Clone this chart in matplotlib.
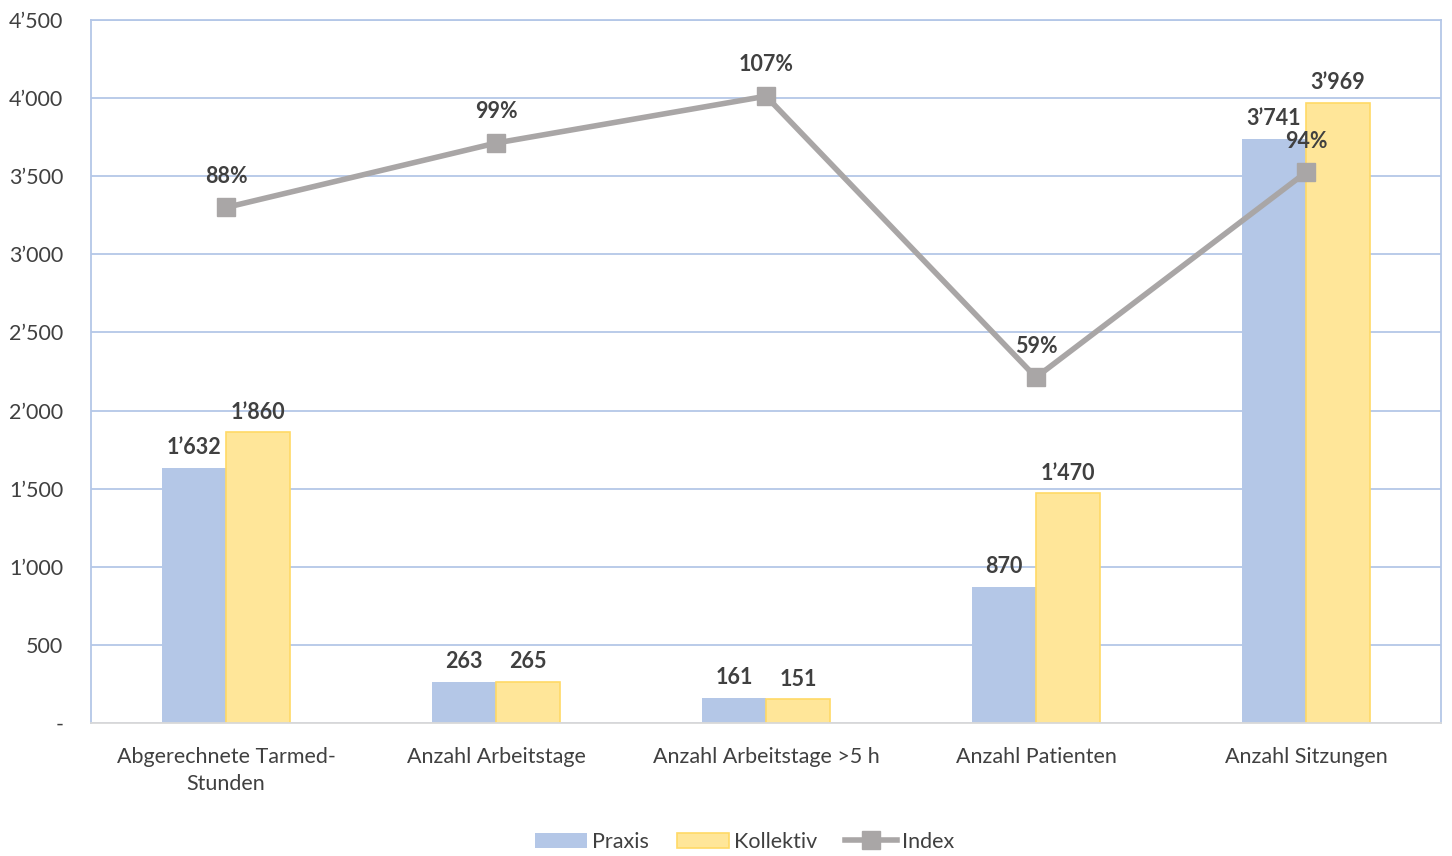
import numpy as np
import matplotlib.pyplot as plt
from matplotlib.ticker import FuncFormatter

plt.rcParams['font.family'] = ['Lato', 'DejaVu Sans']

categories = ['Abgerechnete Tarmed-\nStunden', 'Anzahl Arbeitstage',
              'Anzahl Arbeitstage >5 h', 'Anzahl Patienten', 'Anzahl Sitzungen']
praxis = [1632, 263, 161, 870, 3741]
kollektiv = [1860, 265, 151, 1470, 3969]
index = [0.88, 0.99, 1.07, 0.59, 0.94]

blue = '#B4C7E7'
yellow = '#FFE699'
grey = '#A9A6A6'
text_col = '#404040'


def fmt_num(v, pos=None):
    if v == 0:
        return '-'
    return f'{int(round(v)):,}'.replace(',', '\u2019')


fig = plt.figure(figsize=(14.52, 8.56), dpi=100)
ax = fig.add_axes([0.0627, 0.1554, 0.9297, 0.8212])
x = np.arange(len(categories))
w = 0.237

b1 = ax.bar(x - w / 2, praxis, w, color=blue, label='Praxis', zorder=2)
b2 = ax.bar(x + w / 2, kollektiv, w, color=yellow, edgecolor='#FFD966',
            linewidth=1.2, label='Kollektiv', zorder=2)

for bars, vals in ((b1, praxis), (b2, kollektiv)):
    for r, v in zip(bars, vals):
        ax.annotate(fmt_num(v), (r.get_x() + r.get_width() / 2, v),
                    xytext=(0, 7), textcoords='offset points',
                    ha='center', va='bottom', fontsize=15.5,
                    fontweight='bold', color=text_col)

ax.set_xlim(-0.5, len(categories) - 0.5)
ax.set_ylim(0, 4500)
ax.set_yticks(np.arange(0, 4501, 500))
ax.yaxis.set_major_formatter(FuncFormatter(fmt_num))
ax.set_xticks(x)
ax.set_xticklabels(categories, fontsize=15.5, color=text_col, linespacing=1.45)
ax.tick_params(axis='y', labelsize=15.5, labelcolor=text_col, length=0, pad=20)
ax.tick_params(axis='x', length=0, pad=17)
ax.grid(axis='y', color=blue, linewidth=1.3, zorder=0)
ax.set_axisbelow(True)
for s in ('left', 'right', 'top'):
    ax.spines[s].set_color(blue)
    ax.spines[s].set_linewidth(1.3)
ax.spines['bottom'].set_color('#D9D9D9')
ax.spines['bottom'].set_linewidth(1.3)

ax2 = ax.twinx()
ax2.set_ylim(0, 1.2)
ln, = ax2.plot(x, index, color=grey, linewidth=4, marker='s',
               markersize=13, label='Index', zorder=4)
for xi, v in zip(x, index):
    ax2.annotate(f'{round(v * 100)}%', (xi, v), xytext=(0, 15),
                 textcoords='offset points', ha='center', va='bottom',
                 fontsize=15.5, fontweight='bold', color=text_col)
ax2.set_yticks([])
for s in ax2.spines.values():
    s.set_visible(False)

handles = [b1, b2, ln]
fig.legend(handles, ['Praxis', 'Kollektiv', 'Index'], loc='lower center',
           bbox_to_anchor=(0.513, -0.018), ncol=3, frameon=False, fontsize=15.5,
           labelcolor=text_col, handlelength=2.4, handletextpad=0.25,
           columnspacing=1.3)

fig.savefig('out.png', dpi=100)
